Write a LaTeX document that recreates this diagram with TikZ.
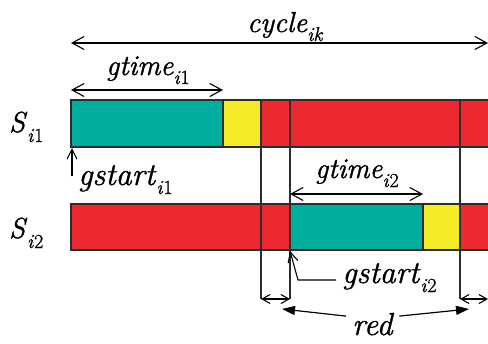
\documentclass[tikz,border=0pt]{standalone}
\usepackage{fontspec}
\setmainfont{Latin Modern Roman}[UprightFeatures={FakeBold=1.0},ItalicFeatures={FakeBold=1.2}]
\usetikzlibrary{arrows.meta}
\definecolor{tealc}{RGB}{0,174,160}
\definecolor{yelc}{RGB}{246,235,40}
\definecolor{redc}{RGB}{236,41,48}
\definecolor{edgec}{RGB}{45,45,45}
\newcommand{\lbl}[2]{\textit{#1}\raisebox{-9bp}{\fontsize{20}{20}\selectfont #2}}
\begin{document}
\begin{tikzpicture}[x=1bp,y=-1bp,
  txt/.style={anchor=base west, inner sep=0pt, font=\fontsize{29}{29}\selectfont},
  bigtxt/.style={txt, font=\fontsize{32}{32}\selectfont},
  edge/.style={draw=edgec, line width=1.1bp},
  bigdim/.style={draw=black, line width=1.1bp, {Straight Barb[length=12bp,width=13bp]}-{Straight Barb[length=12bp,width=13bp]}},
  smalldim/.style={draw=black, line width=1.1bp, {Straight Barb[length=8bp,width=9bp]}-{Straight Barb[length=8bp,width=9bp]}},
  ptr/.style={draw=black, line width=1.1bp, -{Straight Barb[length=10bp,width=10bp]}},
  fptr/.style={draw=black, line width=1.2bp, -{Triangle[length=13bp,width=9bp]}}
]
\useasboundingbox (0,0) rectangle (488,343);
% bar 1
\fill[tealc] (71,100) rectangle (223,147);
\fill[yelc] (223,100) rectangle (261,147);
\fill[redc] (261,100) rectangle (488,147);
% bar 2
\fill[redc] (71,204) rectangle (290,250);
\fill[tealc] (290,204) rectangle (423,250);
\fill[yelc] (423,204) rectangle (460,250);
\fill[redc] (460,204) rectangle (488,250);
% outlines
\draw[edge] (488,100) -- (71,100) -- (71,147) -- (488,147);
\draw[edge] (488,204) -- (71,204) -- (71,250) -- (488,250);
\draw[edge] (223,100) -- (223,147);
\draw[edge] (423,204) -- (423,250);
% long vertical lines
\coordinate (v1t) at (261,100); \coordinate (v1b) at (261,299);
\coordinate (v2t) at (290,100); \coordinate (v2b) at (290,299);
\coordinate (v3t) at (460,100); \coordinate (v3b) at (460,299);
\coordinate (v4b) at (488,299);
\draw[edge] (v1t) -- (v1b);
\draw[edge] (v2t) -- (v2b);
\draw[edge] (v3t) -- (v3b);
\draw[smalldim] (v1b) -- (v2b);
\draw[smalldim] (v3b) -- (v4b);
% labels
\node[txt] (Si1) at (9,132) {\textit{S}\raisebox{-10bp}{\fontsize{20}{20}\selectfont\textit{i}1}};
\node[txt] (Si2) at (9,238) {\textit{S}\raisebox{-10bp}{\fontsize{20}{20}\selectfont\textit{i}2}};
\node[txt] (cyc) at (247,32) {\lbl{cycle}{\textit{ik}}};
\node[txt] (gt1) at (106,75) {\lbl{gtime}{\textit{i}1}};
\node[txt] (gt2) at (315,178) {\lbl{gtime}{\textit{i}2}};
\node[bigtxt] (gs1) at (78,185) {\lbl{gstart}{\textit{i}1}};
\node[bigtxt] (gs2) at (342,283) {\lbl{gstart}{\textit{i}2}};
\node[bigtxt] (red) at (352,335) {\textit{red}};
% dimension arrows
\coordinate (cL) at (71,43); \coordinate (cR) at (488,43);
\draw[bigdim] (cL) -- (cR);
\coordinate (g1L) at (71,90); \coordinate (g1R) at (223,90);
\draw[bigdim] (g1L) -- (g1R);
\coordinate (g2L) at (290,194); \coordinate (g2R) at (423,194);
\draw[bigdim] (g2L) -- (g2R);
% start pointers
\coordinate (s1a) at (72,176); \coordinate (s1b) at (72,148);
\draw[ptr] (s1a) -- (s1b);
\coordinate (s2a) at (336,280); \coordinate (s2k) at (298,280); \coordinate (s2b) at (290,251);
\draw[ptr] (s2a) -- (s2k) -- (s2b);
% red pointers
\coordinate (rL) at (282,309); \coordinate (rR) at (469,309);
\draw[fptr] (red.west) ++(-6,-8) -- (rL);
\draw[fptr] (red.east) ++(5,-8) -- (rR);
\end{tikzpicture}
\end{document}
